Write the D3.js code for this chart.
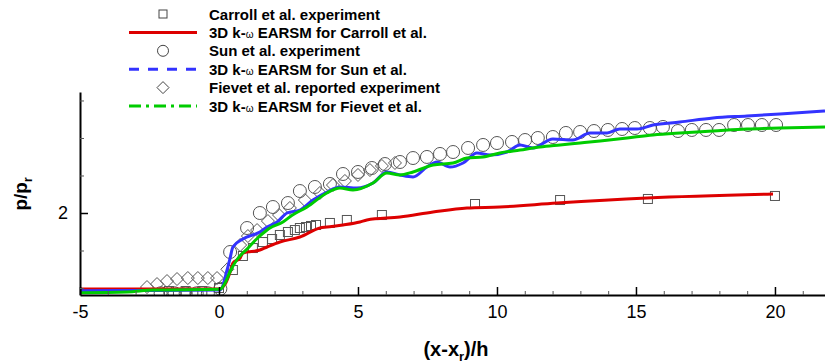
<!DOCTYPE html>
<html>
<head>
<meta charset="utf-8">
<script src="https://cdn.jsdelivr.net/npm/d3@7"></script>
<style>
  html, body { margin: 0; padding: 0; background: #fff; }
  svg { display: block; }
  text { font-family: "Liberation Sans", Arial, Helvetica, sans-serif; }
</style>
</head>
<body>
<svg id="chart" width="825" height="364"></svg>
<script>
// ---- Data ----
const carrollCfdX = [-5, -2, 0, 0.22, 0.40, 0.50, 0.76, 0.86, 1.47, 1.73, 2.19, 2.91, 3.63, 3.88, 4.46, 5.07, 5.32, 6.51, 7.70, 8.92, 10.1, 12.16, 15.4, 19.93];
const carrollCfdY = [0.987, 0.987, 0.987, 1.05, 1.213, 1.333, 1.40, 1.467, 1.507, 1.547, 1.613, 1.68, 1.80, 1.813, 1.84, 1.88, 1.907, 1.947, 2.013, 2.067, 2.08, 2.133, 2.20, 2.253];

const sunCfdX = [-5, -2, 0.04, 0.29, 0.40, 0.50, 0.86, 1.47, 1.73, 2.09, 2.45, 2.91, 3.38, 3.88, 4.35, 4.96, 5.54, 6.04, 6.51, 6.98, 7.48, 7.84, 8.31, 8.78, 9.28, 9.75, 10.36, 10.83, 11.29, 12.01, 12.73, 13.35, 13.96, 14.42, 15.04, 15.61, 16.58, 17.77, 18.99, 20.18, 21.8];
const sunCfdY = [0.964, 0.968, 0.973, 1.24, 1.40, 1.547, 1.653, 1.747, 1.813, 1.88, 2.0, 2.04, 2.173, 2.28, 2.347, 2.333, 2.40, 2.547, 2.507, 2.48, 2.613, 2.68, 2.613, 2.667, 2.80, 2.773, 2.813, 2.907, 2.867, 2.987, 2.973, 3.067, 3.067, 3.12, 3.12, 3.173, 3.213, 3.267, 3.293, 3.32, 3.36];

const fievetCfdX = [-5, -3.3, -2.37, 0.04, 0.22, 0.40, 0.65, 1.01, 1.37, 1.73, 1.83, 2.30, 2.63, 3.17, 3.88, 4.35, 4.82, 5.54, 6.04, 6.51, 6.98, 7.70, 8.42, 8.92, 9.50, 10.1, 10.83, 11.55, 12.27, 12.99, 13.71, 14.68, 15.61, 16.58, 17.77, 18.99, 20.18, 21.8];
const fievetCfdY = [0.937, 0.947, 0.973, 0.983, 1.067, 1.22, 1.38, 1.52, 1.66, 1.773, 1.80, 1.88, 1.97, 2.08, 2.267, 2.333, 2.307, 2.40, 2.533, 2.507, 2.547, 2.64, 2.667, 2.733, 2.747, 2.80, 2.84, 2.88, 2.907, 2.933, 2.96, 3.0, 3.04, 3.067, 3.093, 3.12, 3.133, 3.147];

const carrollExpX = [-1.8, -1.2, -0.6, 0.0, 0.50, 0.86, 1.22, 1.58, 1.91, 2.19, 2.48, 2.73, 2.91, 3.13, 3.31, 3.49, 3.99, 4.60, 5.86, 9.21, 12.27, 15.43, 20.0];
const carrollExpY = [0.96, 0.96, 0.96, 1.0, 1.24, 1.427, 1.533, 1.613, 1.653, 1.707, 1.747, 1.773, 1.80, 1.813, 1.827, 1.84, 1.867, 1.907, 1.973, 2.12, 2.173, 2.187, 2.227];

const sunExpX = [-2.1, -1.6, -1.2, -0.8, -0.4, 0.05, 0.40, 1.01, 1.47, 1.94, 2.48, 2.91, 3.45, 3.99, 4.46, 5.0, 5.50, 5.97, 6.51, 6.98, 7.48, 7.95, 8.42, 8.96, 9.50, 10.0, 10.54, 11.01, 11.47, 12.01, 12.48, 12.99, 13.49, 13.99, 14.50, 14.96, 15.50, 15.97, 16.51, 17.01, 17.52, 17.99, 18.53, 19.03, 19.53, 20.04];
const sunExpY = [0.93, 0.93, 0.93, 0.93, 0.93, 0.99, 1.48, 1.80, 2.0, 2.08, 2.133, 2.293, 2.347, 2.387, 2.52, 2.547, 2.60, 2.653, 2.68, 2.733, 2.747, 2.787, 2.813, 2.867, 2.907, 2.933, 2.947, 2.973, 3.0, 3.013, 3.067, 3.08, 3.093, 3.107, 3.12, 3.133, 3.133, 3.147, 3.093, 3.107, 3.107, 3.107, 3.173, 3.173, 3.173, 3.173];

const fievetExpX = [-2.59, -2.23, -1.87, -1.51, -1.12, -0.76, -0.40, -0.07, 0.30, 0.76, 1.04, 1.37, 1.76, 2.16, 2.55, 3.09, 3.63, 4.10, 4.53, 5.0, 5.43, 5.86, 6.33];
const fievetExpY = [1.013, 1.053, 1.093, 1.12, 1.133, 1.133, 1.133, 1.133, 1.25, 1.573, 1.693, 1.773, 1.893, 1.973, 2.067, 2.173, 2.267, 2.373, 2.427, 2.507, 2.573, 2.627, 2.667];

const xMajorTicks = [-5, 0, 5, 10, 15, 20];
const xMinorTicks = [-4, -3, -2, -1, 1, 2, 3, 4, 6, 7, 8, 9, 11, 12, 13, 14, 16, 17, 18, 19, 21];
const yMajorTicks = [2];
const yMinorTicks = [1.0, 1.5, 2.5, 3.0, 3.5];

const legendLabels = ["Carroll et al. experiment", "3D k-ω EARSM for Carroll et al.", "Sun et al. experiment", "3D k-ω EARSM for Sun et al.", "Fievet et al. reported experiment", "3D k-ω EARSM for Fievet et al."];
const legendKinds = ["square", "line", "circle", "line", "diamond", "line"];
const legendColors = ["#444", "#dd0000", "#444", "#3333ff", "#444", "#00cc00"];
const legendDashes = [null, null, null, "10,9", null, "12,5,3,5"];

// ---- Layout ----
const svg = d3.select("#chart");
const x = d3.scaleLinear().domain([-5, 21.8]).range([80, 825]);
const y = d3.scaleLinear().domain([0.907, 3.613]).range([295, 92]);

svg.append("defs").append("clipPath").attr("id", "plotclip")
  .append("rect").attr("x", 80).attr("y", 88).attr("width", 745).attr("height", 207);

const plot = svg.append("g").attr("clip-path", "url(#plotclip)");

const zip = (xs, ys) => xs.map((v, i) => [v, ys[i]]);
const line = d3.line().x(d => x(d[0])).y(d => y(d[1])).curve(d3.curveMonotoneX);

// markers
const markerStroke = "#555";
function drawSquares(g, pts, s) {
  g.selectAll(null).data(pts).enter().append("rect")
    .attr("x", d => x(d[0]) - s / 2).attr("y", d => y(d[1]) - s / 2)
    .attr("width", s).attr("height", s)
    .attr("fill", "none").attr("stroke", markerStroke).attr("stroke-width", 1);
}
function drawCircles(g, pts, r) {
  g.selectAll(null).data(pts).enter().append("circle")
    .attr("cx", d => x(d[0])).attr("cy", d => y(d[1])).attr("r", r)
    .attr("fill", "none").attr("stroke", markerStroke).attr("stroke-width", 1);
}
function drawDiamonds(g, pts, h) {
  g.selectAll(null).data(pts).enter().append("path")
    .attr("d", d => { const cx = x(d[0]), cy = y(d[1]); return `M${cx},${cy-h}L${cx+h},${cy}L${cx},${cy+h}L${cx-h},${cy}Z`; })
    .attr("fill", "none").attr("stroke", markerStroke).attr("stroke-width", 1);
}

drawDiamonds(plot, zip(fievetExpX, fievetExpY), 6.5);
drawCircles(plot, zip(sunExpX, sunExpY), 6.5);
drawSquares(plot, zip(carrollExpX, carrollExpY), 9);

plot.append("path").datum(zip(carrollCfdX, carrollCfdY)).attr("d", line)
  .attr("fill", "none").attr("stroke", "#dd0000").attr("stroke-width", 3);
plot.append("path").datum(zip(sunCfdX, sunCfdY)).attr("d", line)
  .attr("fill", "none").attr("stroke", "#3333ff").attr("stroke-width", 3);
plot.append("path").datum(zip(fievetCfdX, fievetCfdY)).attr("d", line)
  .attr("fill", "none").attr("stroke", "#00cc00").attr("stroke-width", 3);

// ---- Axes ----
const fmt = d => String(d);
const xAxis = svg.append("g").attr("transform", "translate(0,295)")
  .call(d3.axisBottom(x).tickValues(xMajorTicks).tickFormat(fmt).tickSizeInner(-8).tickSizeOuter(0).tickPadding(10));
xAxis.select(".domain").attr("stroke", "#000").attr("stroke-width", 2);
xAxis.selectAll(".tick line").attr("stroke", "#000").attr("stroke-width", 1.5);
xAxis.selectAll("text").attr("font-size", 18).attr("fill", "#000")
  .attr("font-family", "'Liberation Sans', Arial, sans-serif").attr("dy", "0.72em");

const xMinor = svg.append("g").attr("transform", "translate(0,295)")
  .call(d3.axisBottom(x).tickValues(xMinorTicks).tickFormat("").tickSizeInner(-4).tickSizeOuter(0));
xMinor.select(".domain").remove();
xMinor.selectAll(".tick line").attr("stroke", "#555").attr("stroke-width", 1);

const yAxis = svg.append("g").attr("transform", "translate(80,0)")
  .call(d3.axisLeft(y).tickValues(yMajorTicks).tickFormat(fmt).tickSizeInner(-8).tickSizeOuter(0).tickPadding(12));
yAxis.select(".domain").attr("stroke", "#000").attr("stroke-width", 2);
yAxis.selectAll(".tick line").attr("stroke", "#000").attr("stroke-width", 1.5);
yAxis.selectAll("text").attr("font-size", 18).attr("fill", "#000")
  .attr("font-family", "'Liberation Sans', Arial, sans-serif");

const yMinor = svg.append("g").attr("transform", "translate(80,0)")
  .call(d3.axisLeft(y).tickValues(yMinorTicks).tickFormat("").tickSizeInner(-4).tickSizeOuter(0));
yMinor.select(".domain").remove();
yMinor.selectAll(".tick line").attr("stroke", "#555").attr("stroke-width", 1);

// axis titles
const xt = svg.append("text").attr("x", 456).attr("y", 356).attr("text-anchor", "middle")
  .attr("font-size", 20).attr("font-weight", "bold").attr("fill", "#000");
xt.append("tspan").text("(x-x");
xt.append("tspan").text("r").attr("font-size", 13).attr("dy", 5);
xt.append("tspan").text(")/h").attr("dy", -5);

const yt = svg.append("text").attr("transform", "translate(27,194) rotate(-90)").attr("text-anchor", "middle")
  .attr("font-size", 19).attr("font-weight", "bold").attr("fill", "#000");
yt.append("tspan").text("p/p");
yt.append("tspan").text("r").attr("font-size", 12).attr("dy", 5);

// ---- Legend ----
const legY0 = 14, legDy = 18.4;
const leg = svg.append("g");
legendLabels.forEach((lab, i) => {
  const cy = legY0 + i * legDy;
  const kind = legendKinds[i];
  if (kind === "line") {
    leg.append("line").attr("x1", 129).attr("x2", 197).attr("y1", cy).attr("y2", cy)
      .attr("stroke", legendColors[i]).attr("stroke-width", 3)
      .attr("stroke-dasharray", legendDashes[i]);
  } else if (kind === "square") {
    leg.append("rect").attr("x", 163 - 4).attr("y", cy - 4).attr("width", 8).attr("height", 8)
      .attr("fill", "none").attr("stroke", legendColors[i]).attr("stroke-width", 1);
  } else if (kind === "circle") {
    leg.append("circle").attr("cx", 163).attr("cy", cy).attr("r", 5.5)
      .attr("fill", "none").attr("stroke", legendColors[i]).attr("stroke-width", 1);
  } else {
    leg.append("path").attr("d", `M163,${cy-6}L169,${cy}L163,${cy+6}L157,${cy}Z`)
      .attr("fill", "none").attr("stroke", legendColors[i]).attr("stroke-width", 1);
  }
  const t = leg.append("text").attr("x", 209).attr("y", cy + 5.5)
    .attr("font-size", 15).attr("font-weight", "bold").attr("fill", "#000");
  const parts = lab.split("ω");
  t.append("tspan").text(parts[0]);
  if (parts.length > 1) {
    t.append("tspan").text("ω").attr("font-size", 10).attr("font-weight", "normal");
    t.append("tspan").text(parts[1]);
  }
});
</script>
</body>
</html>
